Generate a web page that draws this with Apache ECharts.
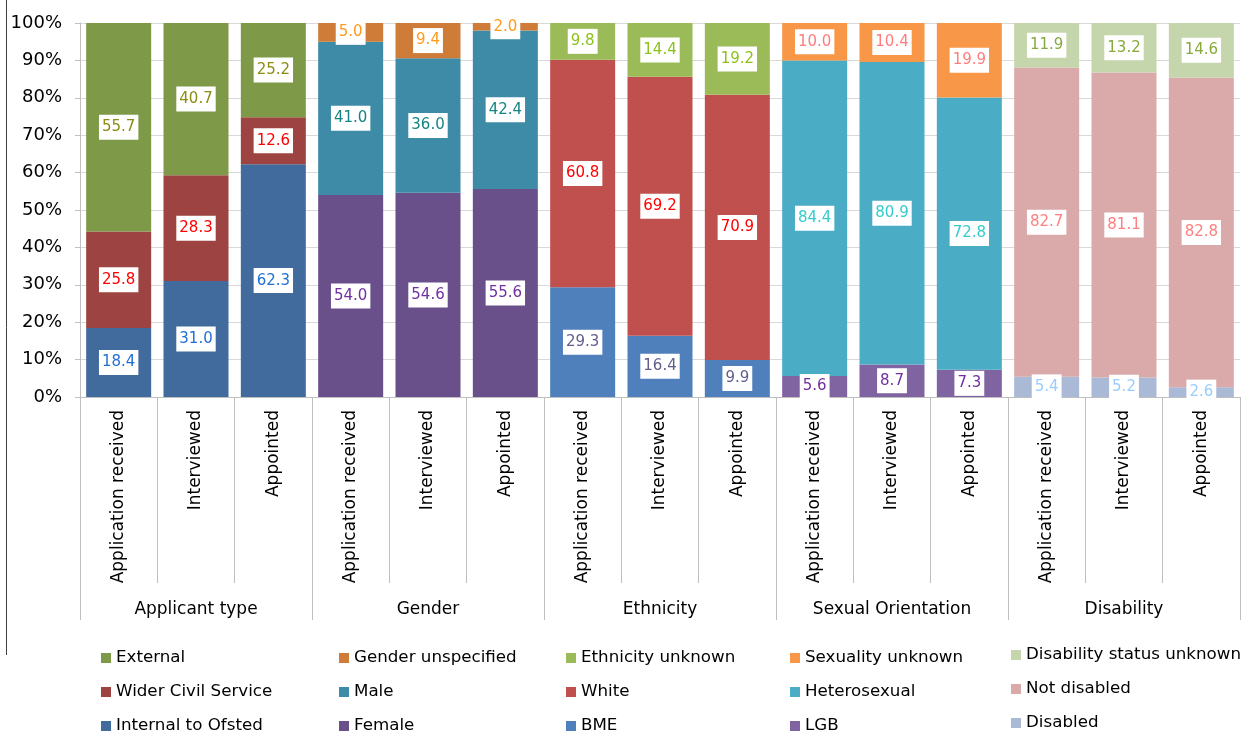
<!DOCTYPE html>
<html>
<head>
<meta charset="utf-8">
<script src="https://cdn.jsdelivr.net/npm/echarts@6/dist/echarts.min.js"></script>
<style>html,body{margin:0;padding:0;background:#fff;}#c{width:1249px;height:736px;}</style>
</head>
<body>
<div id="c"></div>
<script>
const stages = ['Application received', 'Interviewed', 'Appointed'];
const groups = ['Applicant type', 'Gender', 'Ethnicity', 'Sexual Orientation', 'Disability'];
const yTicks = [0, 10, 20, 30, 40, 50, 60, 70, 80, 90, 100];

// Applicant type (bottom -> top)
const internalToOfsted = [18.4, 31.0, 62.3];
const widerCivilService = [25.8, 28.3, 12.6];
const external = [55.7, 40.7, 25.2];
// Gender
const female = [54.0, 54.6, 55.6];
const male = [41.0, 36.0, 42.4];
const genderUnspecified = [5.0, 9.4, 2.0];
// Ethnicity
const bme = [29.3, 16.4, 9.9];
const white = [60.8, 69.2, 70.9];
const ethnicityUnknown = [9.8, 14.4, 19.2];
// Sexual orientation
const lgb = [5.6, 8.7, 7.3];
const heterosexual = [84.4, 80.9, 72.8];
const sexualityUnknown = [10.0, 10.4, 19.9];
// Disability
const disabled = [5.4, 5.2, 2.6];
const notDisabled = [82.7, 81.1, 82.8];
const disabilityUnknown = [11.9, 13.2, 14.6];

const groupSeries = [
  [['Internal to Ofsted', internalToOfsted, '#416A9D', '#1F6FD6'],
   ['Wider Civil Service', widerCivilService, '#9D4341', '#FF0000'],
   ['External', external, '#7E9A49', '#8C8C14']],
  [['Female', female, '#69508A', '#7030A0'],
   ['Male', male, '#3D8BA6', '#148484'],
   ['Gender unspecified', genderUnspecified, '#CE7C38', '#FF9A1A']],
  [['BME', bme, '#4F80BC', '#5F5F8F'],
   ['White', white, '#C0504E', '#FF0000'],
   ['Ethnicity unknown', ethnicityUnknown, '#9BBB59', '#8CC21A']],
  [['LGB', lgb, '#8064A2', '#7030A0'],
   ['Heterosexual', heterosexual, '#4BACC6', '#33CCCC'],
   ['Sexuality unknown', sexualityUnknown, '#F79747', '#FF7C7C']],
  [['Disabled', disabled, '#A9B9D6', '#99CCFF'],
   ['Not disabled', notDisabled, '#DAAAAA', '#FF7F7F'],
   ['Disability status unknown', disabilityUnknown, '#C6D6AC', '#86AA3C']]
];

const categories = [];
groups.forEach(() => stages.forEach(s => categories.push(s)));

const FONT = 'DejaVu Sans';
const series = [];
groupSeries.forEach((gs, gi) => {
  const totals = stages.map((_, si) => gs.reduce((a, s) => a + s[1][si], 0));
  gs.forEach(([name, vals, color, lblColor]) => {
    const data = categories.map((_, ci) => {
      const g = Math.floor(ci / 3), si = ci % 3;
      if (g !== gi) return '-';
      return { value: vals[si] / totals[si] * 100, raw: vals[si] };
    });
    series.push({
      name, type: 'bar', stack: 'all', barWidth: 65,
      itemStyle: { color },
      data,
      label: {
        show: true, position: 'inside',
        formatter: p => p.data.raw.toFixed(1),
        color: lblColor, backgroundColor: '#fff',
        fontFamily: FONT, fontSize: 15, lineHeight: 19,
        padding: [3, 3, 3, 3]
      }
    });
  });
});

const legendCols = [
  { left: 101, top: 648 },
  { left: 339, top: 648 },
  { left: 566, top: 648 },
  { left: 790, top: 648 },
  { left: 1011, top: 645 }
];
const legends = groupSeries.map((gs, gi) => ({
  orient: 'vertical',
  left: legendCols[gi].left, top: legendCols[gi].top,
  data: gs.slice().reverse().map(s => s[0]),
  icon: 'rect', itemWidth: 10, itemHeight: 10, itemGap: 14,
  padding: 0, selectedMode: false,
  textStyle: { fontFamily: FONT, fontSize: 16.7, lineHeight: 20, color: '#000', padding: [0, 0, 0, 0] }
}));

const chart = echarts.init(document.getElementById('c'));
chart.setOption({
  animation: false,
  textStyle: { fontFamily: FONT },
  grid: { left: 80, right: 9, top: 23, bottom: 339 },
  legend: legends,
  xAxis: [{
    type: 'category', data: categories,
    axisLine: { lineStyle: { color: '#BFBFBF' } },
    axisTick: { show: true, length: 186, interval: 0, lineStyle: { color: '#BFBFBF' } },
    axisLabel: { interval: 0, rotate: 90, margin: 13, fontSize: 17, color: '#000', fontFamily: FONT, padding: [0, 0, 12, 0] }
  }, {
    type: 'category', data: groups, position: 'bottom', offset: 186,
    axisLine: { show: false },
    axisTick: { show: true, length: 37, interval: 0, lineStyle: { color: '#BFBFBF' } },
    axisLabel: { interval: 0, margin: 18, fontSize: 17, color: '#000', fontFamily: FONT }
  }],
  yAxis: {
    type: 'value', min: yTicks[0], max: yTicks[yTicks.length - 1], interval: 10,
    axisLine: { show: true, lineStyle: { color: '#BFBFBF' } },
    axisTick: { show: true, length: 5, lineStyle: { color: '#BFBFBF' } },
    axisLabel: { formatter: '{value}%', fontSize: 18, color: '#000', margin: 18, fontFamily: FONT },
    splitLine: { lineStyle: { color: '#D9D9D9' } }
  },
  series,
  graphic: [{
    type: 'line', shape: { x1: 6.5, y1: 0, x2: 6.5, y2: 655 },
    style: { stroke: '#404040', lineWidth: 1 }
  }]
});
</script>
</body>
</html>
